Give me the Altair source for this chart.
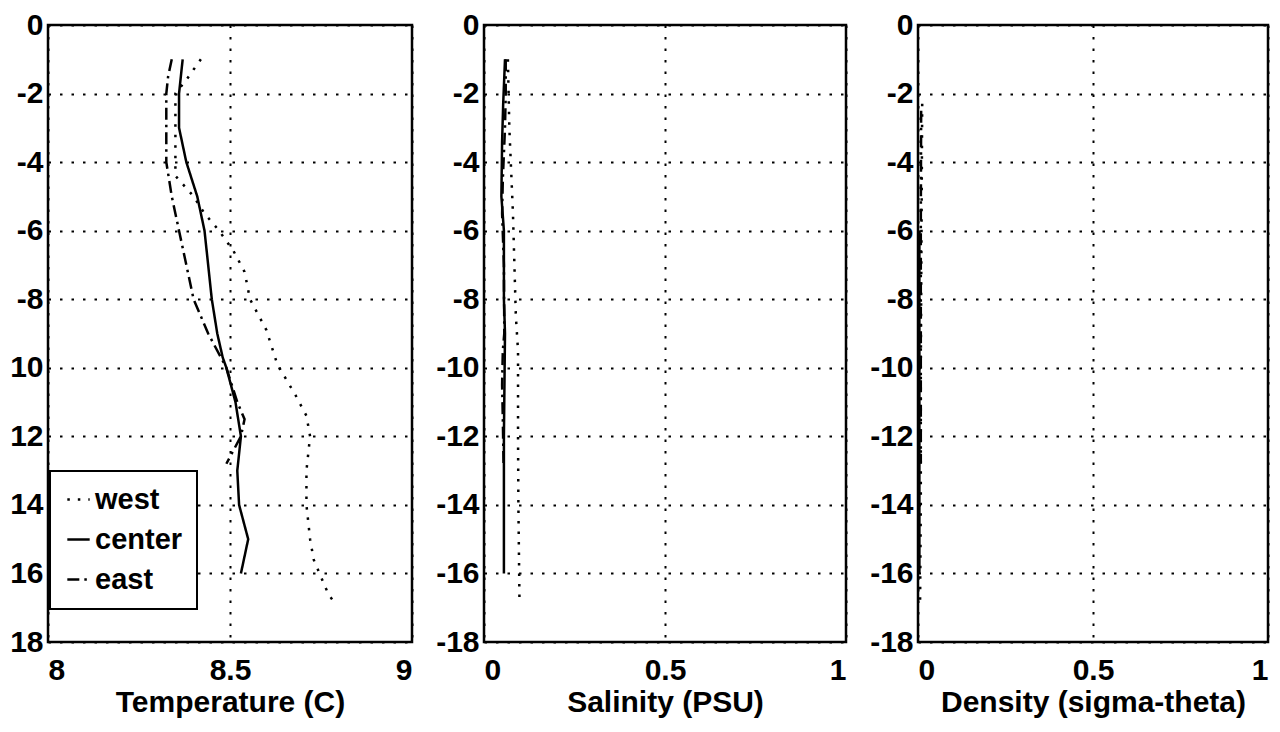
import altair as alt
import pandas as pd

# ---------------- data ----------------
series_names = ["west", "center", "east"]

# Temperature (C)
t_west_depth = [-1.0, -1.3, -1.6, -2.0, -3.0, -4.0, -4.4, -5.0, -5.5, -6.0, -6.6, -7.2, -8.0, -8.9, -9.9,
                -10.8, -11.4, -12.0, -13.0, -14.0, -15.0, -15.6, -16.1, -16.6, -16.9]
t_west = [8.42, 8.40, 8.38, 8.35, 8.35, 8.35, 8.35, 8.40, 8.43, 8.47, 8.51, 8.54, 8.555, 8.60, 8.63,
          8.68, 8.71, 8.72, 8.71, 8.71, 8.72, 8.73, 8.75, 8.77, 8.79]
t_center_depth = [-1.0, -2.0, -3.0, -4.0, -4.5, -5.0, -6.0, -7.0, -8.0, -9.0, -9.7, -10.0, -11.0, -12.0,
                  -13.0, -14.0, -15.0, -16.0]
t_center = [8.37, 8.36, 8.36, 8.38, 8.395, 8.41, 8.43, 8.44, 8.45, 8.465, 8.48, 8.49, 8.515, 8.53,
            8.52, 8.525, 8.55, 8.53]
t_east_depth = [-1.0, -1.5, -2.0, -3.0, -4.0, -5.0, -6.0, -7.0, -8.0, -9.0, -10.0, -11.0, -11.5, -12.0, -12.8]
t_east = [8.34, 8.33, 8.325, 8.325, 8.325, 8.34, 8.36, 8.38, 8.40, 8.44, 8.49, 8.52, 8.54, 8.53, 8.49]

# Salinity (PSU)
s_west_depth = [-1.0, -3.0, -5.5, -8.5, -9.5, -12.0, -14.0, -16.8]
s_west = [0.066, 0.070, 0.080, 0.088, 0.094, 0.094, 0.095, 0.098]
s_center_depth = [-1.0, -2.3, -3.4, -5.0, -6.0, -8.0, -9.0, -10.0, -12.0, -14.0, -16.0]
s_center = [0.058, 0.053, 0.050, 0.048, 0.055, 0.055, 0.058, 0.057, 0.055, 0.055, 0.055]
s_east_depth = [-1.0, -2.0, -3.0, -4.5, -5.5, -7.0, -9.0, -9.5, -10.5, -11.5, -12.8]
s_east = [0.060, 0.060, 0.058, 0.052, 0.050, 0.055, 0.056, 0.052, 0.050, 0.052, 0.054]

# Density (sigma-theta)
d_west_depth = [-2.3, -6.0, -10.0, -14.0, -16.8]
d_west = [0.012, 0.010, 0.008, 0.008, 0.006]
d_center_depth = [-6.0, -10.0, -14.0, -16.0]
d_center = [0.004, 0.004, 0.004, 0.004]
d_east_depth = [-2.5, -6.0, -10.0, -12.8]
d_east = [0.009, 0.008, 0.008, 0.008]

y_ticks = list(range(-18, 1, 2))
x_ticks_temp = [8, 8.5, 9]
x_ticks_unit = [0, 0.5, 1]

FONT = "Liberation Sans"


def make_df(parts):
    rows = []
    for name, depths, vals in parts:
        for i, (d, v) in enumerate(zip(depths, vals)):
            rows.append({"series": name, "depth": d, "value": v, "idx": i})
    return pd.DataFrame(rows)


temp_df = make_df([("west", t_west_depth, t_west), ("center", t_center_depth, t_center),
                   ("east", t_east_depth, t_east)])
sal_df = make_df([("west", s_west_depth, s_west), ("center", s_center_depth, s_center),
                  ("east", s_east_depth, s_east)])
den_df = make_df([("west", d_west_depth, d_west), ("center", d_center_depth, d_center),
                  ("east", d_east_depth, d_east)])

dash_range = [[2.5, 8], [1, 0], [12, 5, 2.5, 5]]


def panel(df, xdom, xvals, xtitle, width, ylab_expr, legend):
    return alt.Chart(df).mark_line(color="black", strokeWidth=2.5, clip=True).encode(
        x=alt.X("value:Q",
                scale=alt.Scale(domain=xdom, nice=False, zero=False),
                axis=alt.Axis(values=xvals, title=xtitle, labelExpr="toString(datum.value)")),
        y=alt.Y("depth:Q",
                scale=alt.Scale(domain=[-18, 0], nice=False, zero=False),
                axis=alt.Axis(values=y_ticks, title=None, labelExpr=ylab_expr)),
        strokeDash=alt.StrokeDash("series:N",
                                  scale=alt.Scale(domain=series_names, range=dash_range),
                                  legend=legend),
        order=alt.Order("idx:Q"),
    ).properties(width=width, height=617)


leg = alt.Legend(orient="none", legendX=2, legendY=446, title=None,
                 symbolType="stroke", symbolSize=500, symbolStrokeWidth=2.5,
                 symbolStrokeColor="black", labelFontSize=29, labelFont=FONT,
                 labelFontWeight="bold",
                 labelColor="black", strokeColor="black", fillColor="white",
                 padding=14, rowPadding=10, labelOffset=2)

p1 = panel(temp_df, [8, 9], x_ticks_temp, "Temperature (C)", 364,
           "datum.value <= -10 ? toString(-datum.value) : toString(datum.value)", leg)
p2 = panel(sal_df, [0, 1], x_ticks_unit, "Salinity (PSU)", 362,
           "toString(datum.value)", None)
p3 = panel(den_df, [0, 1], x_ticks_unit, "Density (sigma-theta)", 350,
           "toString(datum.value)", None)

chart = alt.hconcat(p1, p2, p3, spacing=20).resolve_scale(
    strokeDash="independent"
).resolve_legend(
    strokeDash="independent"
).properties(
    padding=0, background="white"
).configure_view(
    stroke="black", strokeWidth=2.5, fill="white"
).configure_axis(
    domain=False, ticks=False, tickSize=0,
    grid=True, gridColor="black", gridDash=[2.5, 9], gridWidth=2, gridOpacity=1,
    labelFont=FONT, labelFontSize=30, labelFontWeight="bold", labelColor="black",
    titleFont=FONT, titleFontSize=30, titleFontWeight="bold", titleColor="black",
).configure_axisX(
    labelPadding=13, titlePadding=2,
).configure_axisY(
    labelPadding=5,
).configure_legend(
    strokeWidth=2,
)

chart.save("out.html", embed_options={"renderer": "svg", "actions": False})
